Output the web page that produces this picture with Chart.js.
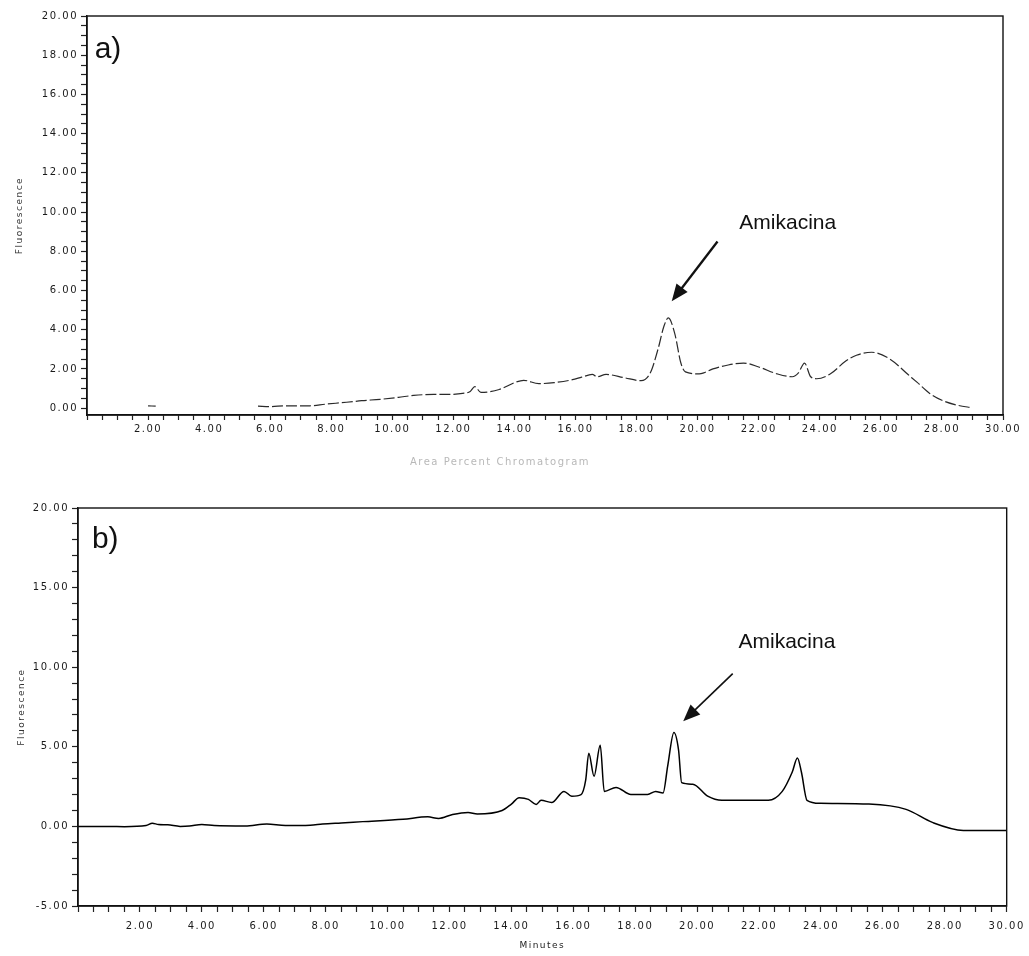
<!DOCTYPE html>
<html>
<head>
<meta charset="utf-8">
<script src="https://cdn.jsdelivr.net/npm/chart.js@4/dist/chart.umd.min.js"></script>
<style>
  body { margin: 0; background: #fff; }
  #wrap { position: relative; width: 1029px; height: 956px; }
  canvas { position: absolute; left: 0; }
  #chartA { top: 0; }
  #chartB { top: 470px; }
  #mid { position: absolute; top: 456px; left: 0; width: 1000px; text-align: center;
         font: 10px "DejaVu Sans", sans-serif; color: #b8b8b8; letter-spacing: 1.5px; }
</style>
</head>
<body>
<div id="wrap">
  <canvas id="chartA" width="1029" height="470"></canvas>
  <div id="mid">Area Percent Chromatogram</div>
  <canvas id="chartB" width="1029" height="486"></canvas>
</div>
<script>
// chromatogram a) - minutes / fluorescence (null = gap in trace)
const timeA = [2.0, 2.25, 2.3, 5.6, 6.0, 6.5, 7.3, 7.8, 8.5, 9.0, 9.6, 10.2, 10.7, 11.35, 11.8, 12.3, 12.55, 12.7, 12.9,
  13.5, 14.0, 14.3, 14.8, 15.3, 15.9, 16.2, 16.55, 16.7, 17.0, 17.6, 18.15, 18.45, 18.7, 18.9, 19.04, 19.25, 19.45, 19.6,
  20.05, 20.2, 20.5, 21.0, 21.5, 22.0, 22.6, 23.1, 23.3, 23.5, 23.7, 23.9, 24.35, 24.85, 25.2, 25.7, 26.3, 26.9, 27.2,
  27.6, 28.0, 28.5, 29.0];
const fluorA = [0.12, 0.1, null, 0.1, 0.08, 0.12, 0.12, 0.2, 0.3, 0.38, 0.45, 0.55, 0.65, 0.7, 0.7, 0.75, 0.85, 1.1, 0.8,
  0.95, 1.3, 1.42, 1.25, 1.3, 1.45, 1.58, 1.72, 1.6, 1.72, 1.55, 1.4, 1.8, 3.0, 4.2, 4.6, 3.8, 2.3, 1.85,
  1.75, 1.8, 2.0, 2.2, 2.3, 2.1, 1.75, 1.6, 1.8, 2.3, 1.6, 1.5, 1.75, 2.4, 2.7, 2.85, 2.5, 1.7, 1.3,
  0.75, 0.4, 0.15, 0.02];

// chromatogram b)
const timeB = [0, 1.0, 1.5, 2.2, 2.4, 2.6, 2.9, 3.3, 3.6, 4.0, 4.4, 5.4, 6.1, 6.7, 7.5, 7.9, 8.5, 9.2, 10.5, 11.3, 11.65,
  12.1, 12.6, 12.9, 13.7, 14.0, 14.25, 14.55, 14.8, 14.96, 15.3, 15.7, 15.95, 16.25, 16.4, 16.5, 16.67, 16.87, 17.0,
  17.38, 17.86, 18.4, 18.66, 18.9, 19.05, 19.25, 19.4, 19.5, 19.86, 20.34, 20.8, 22.3, 22.75, 23.07, 23.24, 23.37,
  23.55, 23.98, 25.55, 26.75, 27.6, 28.6, 30.0];
const fluorB = [0.0, 0.0, -0.02, 0.05, 0.2, 0.12, 0.1, 0.0, 0.02, 0.12, 0.05, 0.02, 0.15, 0.06, 0.08, 0.15, 0.22, 0.3, 0.45, 0.6, 0.5,
  0.75, 0.88, 0.78, 1.0, 1.4, 1.8, 1.7, 1.38, 1.64, 1.5, 2.2, 1.9, 2.0, 2.9, 4.6, 3.15, 5.1, 2.2,
  2.45, 2.0, 2.0, 2.2, 2.1, 3.8, 5.9, 4.8, 2.75, 2.65, 1.9, 1.64, 1.64, 2.2, 3.4, 4.3, 3.4,
  1.64, 1.45, 1.4, 1.07, 0.25, -0.25, -0.25];

const FONT = '"DejaVu Sans", sans-serif';

function fmt(v) { return v.toFixed(2); }

// frame, arrow and panel letter drawn from data coordinates
const extras = {
  id: 'extras',
  beforeDraw(chart) { chart.ctx.letterSpacing = '1.5px'; },
  afterDraw(chart, args, o) {
    const { ctx, chartArea: a, scales: { x, y } } = chart;
    ctx.save();
    ctx.letterSpacing = '0px';
    ctx.strokeStyle = '#111';
    ctx.lineWidth = 1.4;
    ctx.strokeRect(a.left, a.top, a.right - a.left, a.bottom - a.top);

    ctx.fillStyle = '#111';
    ctx.font = '30px "Liberation Sans", Arial, sans-serif';
    ctx.textBaseline = 'middle';
    ctx.fillText(o.panel, x.getPixelForValue(o.panelAt[0]), y.getPixelForValue(o.panelAt[1]));

    ctx.font = '21px "Liberation Sans", Arial, sans-serif';
    ctx.textAlign = 'center';
    ctx.fillText(o.label, x.getPixelForValue(o.labelAt[0]), y.getPixelForValue(o.labelAt[1]));

    const x0 = x.getPixelForValue(o.from[0]), y0 = y.getPixelForValue(o.from[1]);
    const x1 = x.getPixelForValue(o.to[0]), y1 = y.getPixelForValue(o.to[1]);
    const ang = Math.atan2(y1 - y0, x1 - x0);
    const hl = 17, hw = 7;
    ctx.lineWidth = o.arrowWidth;
    ctx.beginPath();
    ctx.moveTo(x0, y0);
    ctx.lineTo(x1 - Math.cos(ang) * hl * 0.8, y1 - Math.sin(ang) * hl * 0.8);
    ctx.stroke();
    ctx.beginPath();
    ctx.moveTo(x1, y1);
    ctx.lineTo(x1 - Math.cos(ang) * hl + Math.sin(ang) * hw, y1 - Math.sin(ang) * hl - Math.cos(ang) * hw);
    ctx.lineTo(x1 - Math.cos(ang) * hl - Math.sin(ang) * hw, y1 - Math.sin(ang) * hl + Math.cos(ang) * hw);
    ctx.closePath();
    ctx.fill();
    ctx.restore();
  }
};

function makeChart(el, cfg) {
  return new Chart(document.getElementById(el), {
    type: 'line',
    data: {
      datasets: [{
        data: cfg.times.map((t, i) => ({ x: t, y: cfg.values[i] })),
        borderColor: cfg.color,
        borderWidth: cfg.width,
        borderDash: cfg.dash,
        pointRadius: 0,
        cubicInterpolationMode: 'monotone',
        spanGaps: false,
        fill: false
      }]
    },
    options: {
      responsive: false,
      animation: false,
      layout: { padding: cfg.padding },
      plugins: { legend: { display: false }, tooltip: { enabled: false }, extras: cfg.extras },
      scales: {
        x: {
          type: 'linear', min: 0, max: 30,
          afterFit: s => { s.height = cfg.xHeight; },
          grid: { drawOnChartArea: false, tickLength: cfg.xTick, color: '#222', tickWidth: 1.2 },
          border: { color: '#111', width: 1.4 },
          ticks: {
            stepSize: 0.5, autoSkip: false, maxRotation: 0, padding: cfg.xPad, color: '#1a1a1a',
            font: { family: FONT, size: 10 },
            callback: v => (v > 0 && Math.abs(v % 2) < 1e-6) ? fmt(v) : ''
          },
          title: { display: cfg.xTitle !== '', text: cfg.xTitle, color: '#222',
                   font: { family: FONT, size: 9 }, padding: { top: 0, bottom: 5 } }
        },
        y: {
          min: cfg.yMin, max: cfg.yMax,
          afterFit: s => { s.width = cfg.yWidth; },
          // tick marks every yStep from the first tick value up to the top
          afterBuildTicks: s => {
            const t = [];
            for (let v = cfg.yFirst; v <= cfg.yMax + 1e-9; v += cfg.yStep) t.push({ value: Math.round(v * 100) / 100 });
            s.ticks = t;
          },
          grid: { drawOnChartArea: false, tickLength: 6, color: '#222', tickWidth: 1.2 },
          border: { color: '#111', width: 1.4 },
          ticks: {
            stepSize: cfg.yStep, autoSkip: false, padding: 3, color: '#1a1a1a',
            font: { family: FONT, size: 10 },
            callback: v => (Math.abs(v % cfg.yMajor) < 1e-6) ? fmt(v) : ''
          },
          title: { display: true, text: 'Fluorescence', color: '#333',
                   font: { family: FONT, size: 9 }, padding: { top: cfg.yTitlePad, bottom: 0 } }
        }
      }
    },
    plugins: [extras]
  });
}

makeChart('chartA', {
  times: timeA, values: fluorA, color: '#2a2a2a', width: 1.2, dash: [11, 3],
  padding: { top: 16, right: 26, left: 0, bottom: 0 },
  xHeight: 55, xTick: 5, xPad: 3, xTitle: '',
  yMin: -0.35, yMax: 20, yFirst: 0, yStep: 0.5, yMajor: 2, yWidth: 87, yTitlePad: 14,
  extras: { panel: 'a)', panelAt: [0.25, 18.3], label: 'Amikacina', labelAt: [22.95, 9.45],
            from: [20.65, 8.5], to: [19.15, 5.45], arrowWidth: 2.3 }
});

makeChart('chartB', {
  times: timeB, values: fluorB, color: '#000', width: 1.5, dash: [],
  padding: { top: 38, right: 19, left: 0, bottom: 0 },
  xHeight: 50, xTick: 6, xPad: 8, xTitle: 'Minutes',
  yMin: -5, yMax: 20, yFirst: -5, yStep: 1, yMajor: 5, yWidth: 78, yTitlePad: 16,
  extras: { panel: 'b)', panelAt: [0.45, 18.0], label: 'Amikacina', labelAt: [22.9, 11.6],
            from: [21.15, 9.6], to: [19.55, 6.6], arrowWidth: 1.6 }
});
</script>
</body>
</html>
